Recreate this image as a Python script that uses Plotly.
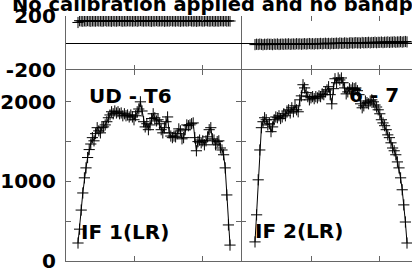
import plotly.graph_objects as go

# ---------------- data ----------------
channels = list(range(1, 97))

amp_left = [226, 400, 640, 855, 1045, 1170, 1300, 1400, 1470, 1550,
            1510, 1600, 1675, 1635, 1610, 1675, 1685, 1710, 1750, 1800,
            1835, 1875, 1850, 1885, 1860, 1875, 1850, 1860, 1825, 1850,
            1825, 1835, 1810, 1835, 1810, 1775, 1825, 1875, 1910, 2000,
            1885, 1750, 1685, 1725, 1650, 1710, 1790, 1850, 1800, 1760,
            1775, 1725, 1650, 1610, 1675, 1750, 1810, 1610, 1570, 1550,
            1570, 1560, 1600, 1660, 1635, 1535, 1550, 1650, 1710, 1700,
            1710, 1725, 1735, 1550, 1385, 1500, 1520, 1485, 1510, 1460,
            1510, 1560, 1650, 1675, 1535, 1520, 1460, 1500, 1510, 1420,
            1395, 1335, 1170, 830, 453, 200]

amp_right = [240, 580, 1020, 1395, 1675, 1750, 1800, 1775, 1710, 1725,
             1625, 1685, 1775, 1810, 1800, 1825, 1790, 1810, 1850, 1825,
             1885, 1900, 1860, 1925, 1875, 1950, 1900, 1875, 2025, 2075,
             2215, 2175, 2115, 2065, 2025, 2050, 2065, 2040, 2065, 2050,
             2075, 2065, 2100, 2090, 2125, 2150, 2190, 2090, 1975, 2165,
             2290, 2240, 2300, 2275, 2300, 2240, 2175, 2100, 2125, 2165,
             2150, 2175, 2165, 2175, 2140, 2090, 1975, 1925, 1950, 2010,
             1990, 1975, 2010, 2025, 2000, 1960, 1935, 1900, 1850, 1775,
             1735, 1700, 1650, 1585, 1550, 1485, 1420, 1385, 1335, 1245,
             1170, 1045, 895, 705, 490, 226]

phase_left = [152, 165, 163, 161, 164, 162, 166, 163, 161, 164,
              163, 162, 165, 163, 164, 161, 163, 166, 162, 164,
              163, 161, 165, 163, 162, 164, 166, 163, 161, 164,
              162, 165, 163, 164, 162, 163, 165, 161, 164, 166,
              163, 162, 164, 163, 165, 162, 161, 164, 163, 166,
              162, 164, 163, 165, 161, 163, 164, 162, 166, 163,
              164, 162, 165, 163, 161, 164, 163, 165, 162, 164,
              166, 163, 162, 164, 161, 163, 165, 164, 162, 163,
              166, 164, 162, 163, 165, 161, 164, 163, 162, 165,
              164, 163, 166, 162, 164, 163]

phase_right = [-12, -9, -11, -8, -10, -13, -9, -11, -8, -10,
               -9, -12, -8, -10, -7, -11, -9, -8, -10, -7,
               -9, -6, -10, -8, -7, -9, -5, -8, -6, -9,
               -7, -5, -8, -6, -4, -7, -5, -8, -4, -6,
               -5, -3, -6, -4, -2, -5, -3, -6, -2, -4,
               -3, -1, -4, 0, -2, -3, 1, -1, -3, 0,
               2, -1, 1, 3, 0, 2, -1, 4, 1, 3,
               2, 5, 1, 4, 3, 6, 2, 5, 4, 7,
               3, 6, 5, 8, 4, 7, 6, 9, 5, 8,
               7, 10, 6, 9, 11, 8]

title_text = "No calibration applied and no bandpass applied"
baseline_labels = ["UD - T6", "6 - 7"]
if_labels = ["IF 1(LR)", "IF 2(LR)"]
amp_tickvals = [0, 500, 1000, 1500, 2000]
amp_ticktext = ["0", "", "1000", "", "2000"]
phase_tickvals = [-200, 200]
phase_ticktext = ["-200", "200"]
chan_ticks = [36.6, 79.1]

# ---------------- layout helpers ----------------
W, H = 412, 271


def fx(p):
    return p / W


def fy(p):
    return 1 - p / H


LINE = "#666666"
FONT = dict(family="DejaVu Sans", size=20, color="black", weight="bold")

mk = dict(symbol="cross-thin", size=8, color="black", line=dict(width=1, color="black"))
ln = dict(color="black", width=1)

fig = go.Figure()
series = [
    (amp_left, "x", "y"),
    (amp_right, "x2", "y2"),
    (phase_left, "x3", "y3"),
    (phase_right, "x4", "y4"),
]
for ys, xa, ya in series:
    fig.add_trace(go.Scatter(x=channels, y=ys, xaxis=xa, yaxis=ya,
                             mode="lines+markers", marker=mk, line=ln,
                             showlegend=False, hoverinfo="skip"))

left_dom = [fx(66), fx(241)]
right_dom = [fx(241), 1.0]
amp_dom = [fy(261), fy(70)]
ph_dom = [fy(70), fy(16)]
left_rng = [-6.5, 102.875]
right_rng = [-7.75, 99.125]

xcommon = dict(showgrid=False, zeroline=False, linecolor=LINE, linewidth=1.2,
               ticks="inside", ticklen=5, tickcolor=LINE, tickwidth=1,
               tickvals=chan_ticks, showticklabels=False, automargin=False)
ycommon = dict(showgrid=False, linecolor=LINE, linewidth=1.2,
               ticks="inside", ticklen=5, tickcolor=LINE, tickwidth=1,
               tickfont=FONT, ticklabelstandoff=5, automargin=False,
               ticklabeloverflow="allow")

fig.update_layout(
    width=W, height=H,
    margin=dict(l=0, r=0, t=0, b=0, autoexpand=False),
    paper_bgcolor="white", plot_bgcolor="white",
    xaxis=dict(domain=left_dom, anchor="y", range=left_rng, showline=True, mirror="ticks", **xcommon),
    xaxis2=dict(domain=right_dom, anchor="y2", range=right_rng, showline=True, mirror="ticks", **xcommon),
    xaxis3=dict(domain=left_dom, anchor="y3", range=left_rng, showline=False, mirror="ticks", **xcommon),
    xaxis4=dict(domain=right_dom, anchor="y4", range=right_rng, showline=False, mirror="ticks", **xcommon),
    yaxis=dict(domain=amp_dom, anchor="x", range=[0, 2400], showline=True, mirror="ticks",
               zeroline=False, tickvals=amp_tickvals, ticktext=amp_ticktext, **ycommon),
    yaxis2=dict(domain=amp_dom, anchor="x2", range=[0, 2400], showline=False, mirror=False,
                zeroline=False, tickvals=amp_tickvals, showticklabels=False, **ycommon),
    yaxis3=dict(domain=ph_dom, anchor="x3", range=[-200, 200], showline=True, mirror="ticks",
                zeroline=True, zerolinecolor="black", zerolinewidth=1,
                tickvals=phase_tickvals, ticktext=phase_ticktext, **ycommon),
    yaxis4=dict(domain=ph_dom, anchor="x4", range=[-200, 200], showline=False, mirror=False,
                zeroline=True, zerolinecolor="black", zerolinewidth=1,
                tickvals=phase_tickvals, showticklabels=False, **ycommon),
)

ann_font = dict(family="DejaVu Sans", size=20, color="black", weight="bold")
title_font = dict(family="DejaVu Sans", size=19.5, color="black", weight="bold")
annotations = [
    (title_text, 10, 4, "left", title_font),
    (baseline_labels[0], 130, 95.5, "center", ann_font),
    (baseline_labels[1], 374, 95, "center", ann_font),
    (if_labels[0], 125, 232, "center", ann_font),
    (if_labels[1], 299, 231, "center", ann_font),
]
for text, px, py, anc, fnt in annotations:
    fig.add_annotation(text=text, xref="paper", yref="paper", x=fx(px), y=fy(py),
                       xanchor=anc, yanchor="middle", showarrow=False, font=fnt)

fig.write_html("out.html", config={"displayModeBar": False},
               post_script="document.body.style.margin='0';document.body.style.overflow='hidden';")
